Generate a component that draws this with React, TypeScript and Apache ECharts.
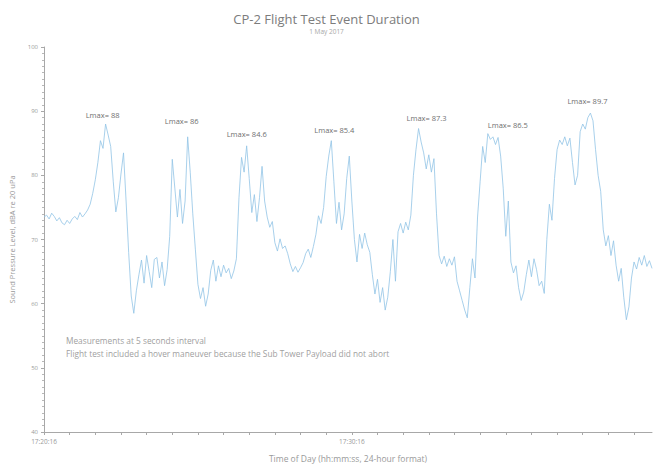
import React, { useEffect, useRef } from "react";
import * as echarts from "echarts";

const startTime = "17:20:16";
const stepSeconds = 5;

const splValues: number[] = [
  73.5, 73.8, 73.2, 74.1, 73.6, 72.9, 73.4, 72.6, 72.3, 73.0,
  72.5, 73.2, 73.6, 73.1, 74.2, 73.5, 74.0, 74.6, 75.5, 77.2,
  79.3, 82.0, 85.4, 84.2, 88.0, 86.3, 84.5, 79.0, 74.3, 76.5,
  80.2, 83.5, 76.0, 68.0, 61.2, 58.5, 62.0, 64.5, 66.8, 63.2,
  67.5, 65.0, 62.5, 66.9, 67.2, 64.0, 66.5, 62.8, 65.3, 70.5,
  82.5, 78.0, 73.5, 77.8, 72.5, 76.0, 86.0, 80.5, 74.0, 68.5,
  63.0, 60.8, 62.5, 59.6, 61.5, 65.2, 66.8, 63.5, 65.9, 64.2,
  66.0, 64.8, 65.5, 63.9, 65.1, 67.0, 76.5, 82.8, 80.5, 84.6,
  79.5, 74.2, 77.0, 72.8, 76.5, 81.4, 76.0, 73.5, 71.9, 72.8,
  69.5, 68.2, 70.1, 68.6, 69.0, 67.8, 66.2, 65.0, 65.8, 64.9,
  65.6, 66.4, 67.8, 68.5, 67.2, 68.9, 70.8, 73.7, 72.5, 75.0,
  79.8, 83.0, 85.4, 79.0, 72.5, 75.8, 71.5, 74.0, 79.5, 83.0,
  76.0, 70.0, 66.5, 70.8, 68.6, 71.0, 69.2, 68.0, 64.5, 61.5,
  63.8, 60.2, 62.5, 59.0, 61.0, 65.0, 70.0, 63.5, 71.2, 72.5,
  71.0, 72.7, 71.5, 73.8, 80.0, 84.0, 87.3, 85.2, 83.5, 81.0,
  83.2, 80.5, 82.6, 74.0, 67.5, 66.2, 67.4, 65.8, 67.0, 66.0,
  67.3, 63.5, 62.0, 60.5, 59.0, 57.8, 62.5, 67.0, 64.0, 73.5,
  79.0, 84.5, 82.0, 86.5, 85.6, 86.0, 84.8, 85.9, 83.0, 78.0,
  70.5, 76.0, 66.5, 64.8, 65.9, 62.5, 60.5, 61.8, 64.5, 66.8,
  64.2, 67.0, 65.3, 62.8, 63.5, 61.6, 70.0, 75.5, 73.0, 79.5,
  84.0, 85.5, 84.8, 86.0, 84.6, 85.8, 82.0, 78.5, 80.0, 86.8,
  88.0, 87.2, 89.0, 89.7, 88.5, 84.0, 80.0, 77.5, 71.5, 69.0,
  70.6, 67.5, 69.8, 66.0, 63.5, 65.5, 61.0, 57.5, 59.5, 64.0,
  66.5, 65.4, 67.2, 66.0, 67.5, 65.8, 66.7, 65.5,
];

const peakIndices: number[] = [24, 56, 79, 112, 146, 173, 213];
const peakLabels: string[] = ["Lmax= 88", "Lmax= 86", "Lmax= 84.6", "Lmax= 85.4", "Lmax= 87.3", "Lmax= 86.5", "Lmax= 89.7"];

const yTicks: number[] = [40, 50, 60, 70, 80, 90, 100];

const titleText = "CP-2 Flight Test Event Duration";
const subtitleText = "1 May 2017";
const yAxisTitle = "Sound Pressure Level, dBA re 20 uPa";
const xAxisTitle = "Time of Day (hh:mm:ss, 24-hour format)";
const noteLines: string[] = [
  "Measurements at 5 seconds interval",
  "Flight test included a hover maneuver because the Sub Tower Payload did not abort",
];

function buildTimes(start: string, n: number, step: number): string[] {
  const [h, m, s] = start.split(":").map(Number);
  const base = h * 3600 + m * 60 + s;
  const out: string[] = [];
  for (let i = 0; i < n; i++) {
    const t = base + i * step;
    const hh = Math.floor(t / 3600);
    const mm = Math.floor((t % 3600) / 60);
    const ss = t % 60;
    out.push(`${hh}:${String(mm).padStart(2, "0")}:${String(ss).padStart(2, "0")}`);
  }
  return out;
}

const FONT = "'Open Sans', 'Liberation Sans', sans-serif";

export default function App() {
  const ref = useRef<HTMLDivElement>(null);
  useEffect(() => {
    document.body.style.margin = "0";
    if (!ref.current) return;
    const chart = echarts.init(ref.current, null, { renderer: "svg" });
    const times = buildTimes(startTime, splValues.length, stepSeconds);
    const labelOffsets: number[][] = [[-3, -9], [-6, -16], [0, -12], [3, -11], [8, -10], [20, -9], [-3, -12]];
    chart.setOption({
      animation: false,
      backgroundColor: "#ffffff",
      textStyle: { fontFamily: FONT },
      title: {
        text: titleText,
        subtext: subtitleText,
        left: "center",
        top: 7,
        itemGap: 3,
        textStyle: { fontSize: 13, fontWeight: "normal", color: "#7c7c7c", fontFamily: FONT },
        subtextStyle: { fontSize: 6.5, color: "#a8a8a8", fontFamily: FONT },
      },
      grid: { left: 42, right: 1, top: 47, bottom: 32, containLabel: false },
      xAxis: {
        type: "category",
        data: times,
        boundaryGap: false,
        name: xAxisTitle,
        nameLocation: "middle",
        nameGap: 22,
        nameTextStyle: { fontSize: 8.5, color: "#9a9a9a" },
        axisLine: { lineStyle: { color: "#a8a8a8", width: 1 } },
        axisTick: { show: true, interval: 9, length: 3, lineStyle: { color: "#a8a8a8" } },
        axisLabel: { interval: 119, fontSize: 6.5, color: "#9a9a9a", margin: 6 },
        splitLine: { show: false },
      },
      yAxis: {
        type: "value",
        min: yTicks[0],
        max: yTicks[yTicks.length - 1],
        interval: 10,
        name: yAxisTitle,
        nameLocation: "middle",
        nameGap: 28,
        nameTextStyle: { fontSize: 7.5, color: "#9a9a9a" },
        axisLine: { show: true, lineStyle: { color: "#a8a8a8", width: 1 } },
        axisTick: { show: true, length: 3, lineStyle: { color: "#a8a8a8" } },
        minorTick: { show: true, splitNumber: 10, length: 2, lineStyle: { color: "#b8b8b8" } },
        axisLabel: { fontSize: 6, color: "#9a9a9a", margin: 6 },
        splitLine: { show: false },
      },
      series: [
        {
          type: "line",
          data: splValues,
          showSymbol: false,
          symbol: "none",
          lineStyle: { color: "#92c4e6", width: 0.8 },
          markPoint: {
            symbol: "circle",
            symbolSize: 0,
            itemStyle: { color: "transparent" },
            data: peakIndices.map((idx, i) => ({
              coord: [idx, splValues[idx]],
              value: peakLabels[i],
              label: {
                show: true,
                position: "inside",
                offset: labelOffsets[i],
                formatter: peakLabels[i],
                fontSize: 7.5,
                color: "#6f6f6f",
                fontFamily: FONT,
              },
            })),
          },
        },
      ],
      graphic: noteLines.map((line, i) => ({
        type: "text",
        left: 66,
        top: 336 + i * 13,
        style: { text: line, fontSize: 8.3, fill: "#a0a0a0", fontFamily: FONT },
      })),
    });
    return () => chart.dispose();
  }, []);
  return <div ref={ref} style={{ width: 653, height: 468 }} />;
}
